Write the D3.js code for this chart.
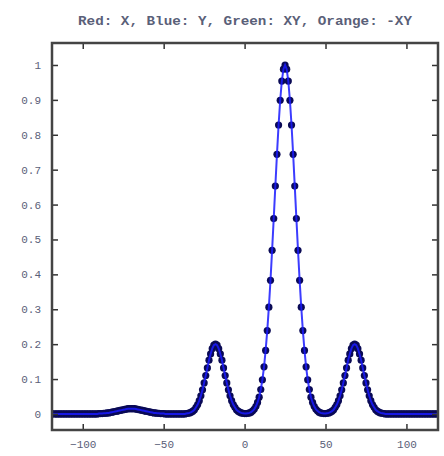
<!DOCTYPE html>
<html>
<head>
<meta charset="utf-8">
<script src="https://cdn.jsdelivr.net/npm/d3@7/dist/d3.min.js"></script>
<style>
  html, body { margin: 0; padding: 0; background: #fff; }
  svg { display: block; }
</style>
</head>
<body>
<script>
// ---- data ----
const titleText = "Red: X, Blue: Y, Green: XY, Orange: -XY";
const xStart = -120;   // first sample position
const xStep = 1;       // sample spacing
const yValues = [
  // -120 .. -91
  0,0,0,0,0,0,0,0,0,0, 0,0,0,0,0,0,0,0,0,0, 0,0,0,0,0,0,0,0,0,0,
  // -90 .. -50
  .001,.001,.001,.002,.002,.003,.003,.004,.005,.006,.007,.008,.009,.010,.011,.012,.013,.014,.015,.015,
  .015,.015,.015,.014,.013,.012,.011,.010,.009,.008,.007,.006,.005,.004,.003,.003,.002,.002,.001,.001,.001,
  // -49 .. -37
  0,0,0,0,0,0,0,0,0,0,0,0,0,
  // -36 .. 0
  .001,.002,.003,.005,.008,.012,.019,.027,.038,.052,.069,.089,.110,.132,.154,.172,.187,.197,
  .200,.197,.187,.172,.154,.132,.110,.089,.069,.052,.038,.027,.019,.012,.008,.005,.003,.002,.001,
  // 1 .. 49
  .001,.002,.003,.005,.009,.014,.022,.033,.048,.070,.098,.135,.182,.239,.306,.383,.469,.560,.653,.744,.828,.899,.954,.988,
  1.000,.988,.954,.899,.828,.744,.653,.560,.469,.383,.306,.239,.182,.135,.098,.070,.048,.033,.022,.014,.009,.005,.003,.002,.001,
  // 50 .. 86
  .001,.002,.003,.005,.008,.012,.019,.027,.038,.052,.069,.089,.110,.132,.154,.172,.187,.197,
  .200,.197,.187,.172,.154,.132,.110,.089,.069,.052,.038,.027,.019,.012,.008,.005,.003,.002,.001,
  // 87 .. 120
  0,0,0,0,0,0,0,0,0,0, 0,0,0,0,0,0,0,0,0,0, 0,0,0,0,0,0,0,0,0,0, 0,0,0,0
];
const xTicks = [-100, -50, 0, 50, 100];
const yTicks = [0, 0.1, 0.2, 0.3, 0.4, 0.5, 0.6, 0.7, 0.8, 0.9, 1];
const xDomain = [-119, 119.5];
const yDomain = [-0.046, 1.063];

// ---- layout ----
const W = 444, H = 456;
const plot = { left: 52, right: 438, top: 43, bottom: 430 };

const points = yValues.map((v, i) => ({ x: xStart + i * xStep, y: v }));

const svg = d3.select("body").append("svg").attr("width", W).attr("height", H);

const x = d3.scaleLinear().domain(xDomain).range([plot.left, plot.right]);
const y = d3.scaleLinear().domain(yDomain).range([plot.bottom, plot.top]);

const clipId = "plotclip";
svg.append("clipPath").attr("id", clipId).append("rect")
  .attr("x", plot.left).attr("y", plot.top)
  .attr("width", plot.right - plot.left).attr("height", plot.bottom - plot.top);

const g = svg.append("g").attr("clip-path", `url(#${clipId})`);

// markers
g.selectAll("circle.m").data(points).join("circle")
  .attr("class", "m")
  .attr("cx", d => x(d.x)).attr("cy", d => y(d.y))
  .attr("r", 3.6)
  .attr("fill", "#0a0a55");

// line
const line = d3.line().x(d => x(d.x)).y(d => y(d.y));
g.append("path").datum(points)
  .attr("d", line)
  .attr("fill", "none")
  .attr("stroke", "#1a1aff")
  .attr("stroke-width", 2)
  .attr("stroke-opacity", 0.85);

// axes (inward ticks, all four sides)
const tickStyle = sel => {
  sel.select(".domain").remove();
  sel.selectAll(".tick line").attr("stroke", "#333").attr("stroke-width", 1.5);
  sel.selectAll(".tick text")
    .attr("fill", "#5a6078")
    .style("font-family", "'Liberation Mono', 'DejaVu Sans Mono', monospace")
    .style("font-size", "11px");
};

svg.append("g").attr("transform", `translate(0,${plot.bottom})`)
  .call(d3.axisBottom(x).tickValues(xTicks).tickSize(-6).tickPadding(10).tickFormat(d3.format("d")))
  .call(tickStyle);
svg.append("g").attr("transform", `translate(0,${plot.top})`)
  .call(d3.axisTop(x).tickValues(xTicks).tickSize(-6).tickFormat(""))
  .call(tickStyle);
svg.append("g").attr("transform", `translate(${plot.left},0)`)
  .call(d3.axisLeft(y).tickValues(yTicks).tickSize(-6).tickPadding(11).tickFormat(d => d === 0 || d === 1 ? String(d) : d.toFixed(1)))
  .call(tickStyle);
svg.append("g").attr("transform", `translate(${plot.right},0)`)
  .call(d3.axisRight(y).tickValues(yTicks).tickSize(-6).tickFormat(""))
  .call(tickStyle);

// frame
svg.append("rect")
  .attr("x", plot.left).attr("y", plot.top)
  .attr("width", plot.right - plot.left).attr("height", plot.bottom - plot.top)
  .attr("fill", "none").attr("stroke", "#444").attr("stroke-width", 2.5);

// title
svg.append("text")
  .attr("x", 245).attr("y", 25)
  .attr("text-anchor", "middle")
  .attr("textLength", 334)
  .attr("lengthAdjust", "spacingAndGlyphs")
  .attr("fill", "#5a6078")
  .style("font-family", "'Liberation Mono', 'DejaVu Sans Mono', monospace")
  .style("font-size", "12px")
  .style("font-weight", "bold")
  .text(titleText);
</script>
</body>
</html>
